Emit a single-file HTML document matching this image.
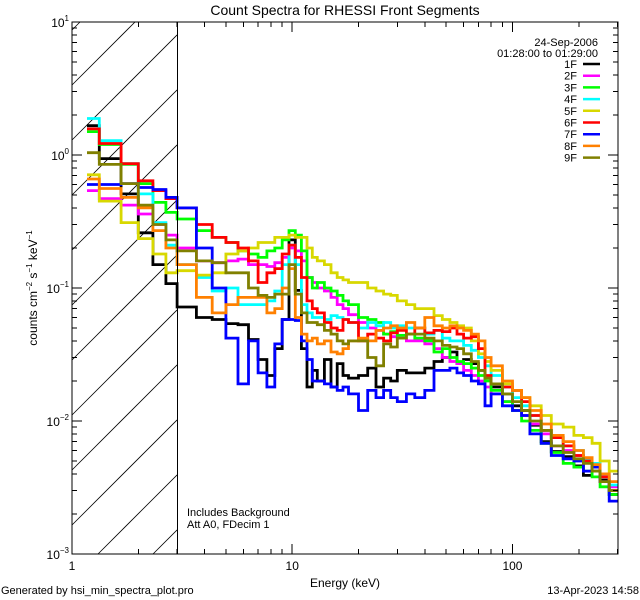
<!DOCTYPE html>
<html><head><meta charset="utf-8">
<style>
html,body{margin:0;padding:0;background:#fff;width:640px;height:600px;overflow:hidden;}
svg{display:block;font-family:"Liberation Sans",sans-serif;}
</style></head>
<body>
<svg id="chart" width="640" height="600" viewBox="0 0 640 600">
<rect x="0" y="0" width="640" height="600" fill="#fff"/>
<text x="345" y="15" font-size="14" text-anchor="middle">Count Spectra for RHESSI Front Segments</text>
<g id="hatch"></g>
<g id="series"></g>
<g id="axes" shape-rendering="crispEdges"></g>
<text x="345" y="587" font-size="12" text-anchor="middle">Energy (keV)</text>
<text transform="translate(37,288) rotate(-90)" font-size="12" text-anchor="middle">counts cm<tspan dy="-5" font-size="8">−2</tspan><tspan dy="5"> s</tspan><tspan dy="-5" font-size="8">−1</tspan><tspan dy="5"> keV</tspan><tspan dy="-5" font-size="8">−1</tspan></text>
<text x="1" y="594" font-size="11">Generated by hsi_min_spectra_plot.pro</text>
<text x="639" y="594" font-size="11" text-anchor="end">13-Apr-2023 14:58</text>
<text x="187" y="516" font-size="11">Includes Background</text>
<text x="187" y="528" font-size="11">Att A0, FDecim 1</text>
<text x="598" y="46" font-size="11" text-anchor="end">24-Sep-2006</text>
<text x="598" y="57" font-size="11" text-anchor="end">01:28:00 to 01:29:00</text>
<g id="legend"></g>
</svg>
<script>
const edges = [1.17,1.33,1.67,2,2.33,2.67,3,3.67,4.33,5,5.67,6.33,7,7.67,8.33,9,9.67,10.33,11,11.67,12.33,13,14,15,16,17,18,20,22,24,26,28,30,33,36,40,44,48,52,56,60,65,70,75,80,90,100,110,120,135,150,170,190,210,230,250,275,300];
const seriesNames = ["1F","2F","3F","4F","5F","6F","7F","8F","9F"];
const seriesColors = ["#000000","#ff00ff","#00ff00","#00ffff","#d8d800","#ff0000","#0000ff","#ff8000","#808000"];
const s1F = [1.66,0.94,0.51,0.26,0.15,0.108,0.072,0.060,0.058,0.054,0.053,0.041,0.029,0.022,0.035,0.058,0.23,0.096,0.035,0.018,0.024,0.020,0.029,0.018,0.027,0.022,0.021,0.022,0.025,0.018,0.021,0.020,0.024,0.023,0.023,0.025,0.028,0.030,0.033,0.027,0.029,0.027,0.024,0.021,0.018,0.016,0.013,0.012,0.0093,0.0070,0.0059,0.0054,0.0046,0.0039,0.0042,0.0036,0.0028];
const s2F = [0.54,0.47,0.42,0.36,0.30,0.25,0.20,0.16,0.155,0.16,0.165,0.15,0.15,0.145,0.155,0.17,0.20,0.19,0.16,0.12,0.11,0.10,0.095,0.085,0.075,0.07,0.063,0.055,0.05,0.048,0.045,0.043,0.042,0.04,0.04,0.038,0.035,0.03,0.028,0.027,0.024,0.022,0.02,0.018,0.016,0.014,0.012,0.011,0.0095,0.008,0.0065,0.006,0.0055,0.005,0.0048,0.004,0.0032];
const s3F = [1.5,1.2,0.85,0.61,0.44,0.37,0.33,0.27,0.24,0.22,0.19,0.18,0.17,0.19,0.20,0.23,0.27,0.25,0.19,0.12,0.10,0.11,0.10,0.095,0.088,0.08,0.075,0.06,0.058,0.055,0.045,0.047,0.044,0.045,0.042,0.04,0.033,0.035,0.03,0.028,0.027,0.025,0.022,0.02,0.017,0.014,0.012,0.01,0.0085,0.0068,0.0058,0.0048,0.0045,0.0042,0.0038,0.0032,0.0028];
const s4F = [1.88,1.28,0.86,0.51,0.31,0.21,0.15,0.12,0.095,0.10,0.075,0.075,0.075,0.08,0.095,0.15,0.21,0.15,0.075,0.065,0.06,0.06,0.058,0.062,0.06,0.058,0.055,0.05,0.055,0.052,0.055,0.05,0.052,0.05,0.05,0.045,0.048,0.042,0.04,0.04,0.037,0.034,0.03,0.026,0.022,0.018,0.015,0.013,0.011,0.0085,0.0075,0.0065,0.006,0.0052,0.0048,0.004,0.0033];
const s5F = [0.71,0.45,0.31,0.235,0.18,0.13,0.135,0.125,0.13,0.18,0.19,0.20,0.22,0.22,0.24,0.24,0.25,0.24,0.24,0.20,0.17,0.16,0.15,0.13,0.12,0.115,0.11,0.11,0.10,0.095,0.09,0.088,0.08,0.075,0.07,0.07,0.062,0.058,0.055,0.052,0.05,0.04,0.032,0.028,0.024,0.019,0.017,0.015,0.013,0.011,0.0095,0.009,0.0078,0.0075,0.0068,0.005,0.0042];
const s6F = [1.57,1.22,0.86,0.64,0.54,0.47,0.40,0.30,0.24,0.22,0.20,0.16,0.11,0.13,0.14,0.18,0.21,0.17,0.12,0.08,0.07,0.065,0.055,0.05,0.048,0.058,0.055,0.04,0.045,0.042,0.04,0.046,0.048,0.045,0.05,0.046,0.048,0.047,0.05,0.045,0.042,0.043,0.035,0.022,0.019,0.018,0.017,0.014,0.011,0.0085,0.0075,0.0065,0.0055,0.005,0.0045,0.0038,0.003];
const s7F = [0.60,0.60,0.61,0.57,0.55,0.48,0.40,0.20,0.10,0.042,0.019,0.04,0.023,0.018,0.038,0.058,0.058,0.057,0.04,0.029,0.02,0.02,0.019,0.018,0.017,0.018,0.016,0.012,0.017,0.015,0.017,0.015,0.014,0.016,0.015,0.017,0.024,0.024,0.025,0.023,0.022,0.02,0.019,0.013,0.016,0.013,0.012,0.011,0.008,0.0068,0.0055,0.0052,0.005,0.0042,0.0045,0.0035,0.0025];
const s8F = [0.66,0.56,0.48,0.40,0.27,0.20,0.15,0.085,0.065,0.075,0.085,0.085,0.085,0.065,0.07,0.10,0.14,0.06,0.045,0.04,0.042,0.038,0.04,0.033,0.032,0.035,0.04,0.042,0.04,0.048,0.05,0.052,0.05,0.055,0.05,0.06,0.052,0.05,0.052,0.05,0.048,0.045,0.04,0.03,0.026,0.02,0.017,0.015,0.012,0.0095,0.0078,0.007,0.006,0.0053,0.0047,0.004,0.0035];
const s9F = [1.04,0.85,0.61,0.42,0.30,0.23,0.19,0.16,0.155,0.13,0.13,0.10,0.088,0.085,0.09,0.09,0.15,0.09,0.065,0.055,0.055,0.053,0.048,0.045,0.04,0.038,0.04,0.04,0.03,0.026,0.038,0.036,0.042,0.045,0.045,0.042,0.04,0.037,0.036,0.035,0.032,0.028,0.024,0.021,0.019,0.016,0.014,0.012,0.01,0.0085,0.0065,0.0058,0.0052,0.0048,0.0042,0.0035,0.003];
const allSeries = [s1F,s2F,s3F,s4F,s5F,s6F,s7F,s8F,s9F];
const xTickLabels = ["1","10","100"];
const yTickExps = ["−3","−2","−1","0","1"];

const NS="http://www.w3.org/2000/svg";
const L=72,R=618,T=22,B=554;
const XMIN=0, XMAX=Math.log10(300)+0.002;
const YMIN=-3, YMAX=1;
function xs(e){return L+(Math.log10(e)-XMIN)/(XMAX-XMIN)*(R-L);}
function ys(v){return B-(Math.log10(v)-YMIN)/(YMAX-YMIN)*(B-T);}
function mk(tag,attrs,parent){const el=document.createElementNS(NS,tag);for(const k in attrs)el.setAttribute(k,attrs[k]);parent.appendChild(el);return el;}

const defs=mk('defs',{},document.getElementById('chart'));
const cp2=mk('clipPath',{id:'pclip'},defs);
mk('rect',{x:L,y:T,width:R-L,height:B-T},cp2);

// hatch lines computed inside the excluded rectangle (y = c - (x - L))
const hatch=document.getElementById('hatch');
const X3=xs(3);
for(let c=30;c<B+(X3-L);c+=55){
  // x range where T<=y<=B
  let xa=Math.max(L, L+(c-B)), xb=Math.min(X3, L+(c-T));
  if(xb<=xa) continue;
  const ln=mk('line',{x1:xa,y1:c-(xa-L),x2:xb,y2:c-(xb-L),stroke:'#000','stroke-width':0.8},hatch);
  
  
}
const vx=Math.round(X3)+0.5;
const vl=mk('line',{x1:vx,y1:T,x2:vx,y2:B,stroke:'#000','stroke-width':1},document.getElementById('chart'));



const sg=document.getElementById('series');
sg.setAttribute('clip-path','url(#pclip)');
allSeries.forEach((vals,si)=>{
  let d='';
  for(let i=0;i<vals.length;i++){
    const x0=xs(edges[i]),x1=xs(edges[i+1]),y=ys(vals[i]);
    d+=(i===0?'M':'L')+x0.toFixed(1)+','+y.toFixed(1)+'L'+x1.toFixed(1)+','+y.toFixed(1);
  }
  const p=mk('path',{d:d,fill:'none',stroke:seriesColors[si],'stroke-width':2.8,'stroke-linejoin':'miter'},sg);
  
  
});

const ax=document.getElementById('axes');
const box=mk('rect',{x:L,y:T,width:R-L,height:B-T,fill:'none',stroke:'#000','stroke-width':1.2},ax);


for(let dec=0;dec<=2;dec++){
  for(let m=1;m<=9;m++){
    const e=m*Math.pow(10,dec); if(e>300)break;
    const x=xs(e), len=(m===1)?10:5;
    mk('line',{x1:x,y1:B,x2:x,y2:B-len,stroke:'#000','stroke-width':1},ax);
    mk('line',{x1:x,y1:T,x2:x,y2:T+len,stroke:'#000','stroke-width':1},ax);
  }
}
xTickLabels.forEach(t=>{
  const tx=mk('text',{x:xs(parseFloat(t)),y:B+16,'font-size':12,'text-anchor':'middle'},ax);
  tx.textContent=t;
  
  
});
for(let dec=-3;dec<1;dec++){
  for(let m=1;m<=9;m++){
    const v=m*Math.pow(10,dec), y=ys(v), len=(m===1)?10:5;
    mk('line',{x1:L,y1:y,x2:L+len,y2:y,stroke:'#000','stroke-width':1},ax);
    mk('line',{x1:R,y1:y,x2:R-len,y2:y,stroke:'#000','stroke-width':1},ax);
  }
}
yTickExps.forEach(ex=>{
  const v=Math.pow(10,parseFloat(ex.replace('−','-')));
  const tx=mk('text',{x:L-3,y:ys(v)+5,'font-size':12,'text-anchor':'end'},ax);
  
  
  const t1=mk('tspan',{},tx); t1.textContent='10';
  const t2=mk('tspan',{dy:-6,'font-size':8},tx); t2.textContent=ex;
});

const lg=document.getElementById('legend');
seriesNames.forEach((n,i)=>{
  const y=64+i*11.7;
  const tx=mk('text',{x:577,y:y+4,'font-size':11,'text-anchor':'end'},lg);
  tx.textContent=n;
  
  
  const ln=mk('line',{x1:583,y1:y,x2:600,y2:y,stroke:seriesColors[i],'stroke-width':2.5},lg);
  
  
});
</script>
</body></html>
